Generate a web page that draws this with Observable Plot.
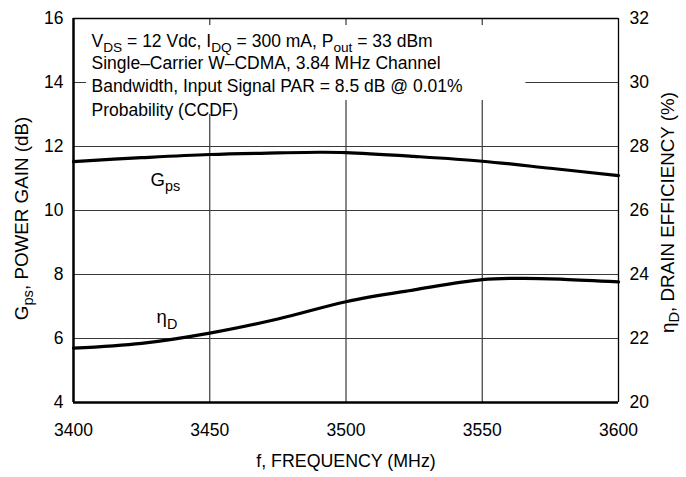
<!DOCTYPE html>
<html><head><meta charset="utf-8">
<script src="https://cdn.jsdelivr.net/npm/d3@7"></script>
<script src="https://cdn.jsdelivr.net/npm/@observablehq/plot@0.6"></script>
<style>
body{margin:0;background:#fff;}
#chart svg{font-family:"Liberation Sans",Arial,sans-serif;}
</style></head><body><div id="chart"></div>
<script>
// ---- data ----
const freq = [3400, 3425, 3450, 3475, 3490, 3500, 3525, 3550, 3575, 3600];
const gain = [11.53, 11.65, 11.75, 11.80, 11.82, 11.81, 11.69, 11.54, 11.32, 11.09];
const effFreq = [3400, 3425, 3450, 3475, 3500, 3525, 3550, 3565, 3580, 3600];
const eff = [21.70, 21.85, 22.17, 22.61, 23.15, 23.52, 23.84, 23.88, 23.85, 23.77];
const xTicks = [3400, 3450, 3500, 3550, 3600];
const leftTicks = [4, 6, 8, 10, 12, 14, 16];
const rightTicks = [20, 22, 24, 26, 28, 30, 32];
const annotation = [
  "V_{DS} = 12 Vdc, I_{DQ} = 300 mA, P_{out} = 33 dBm",
  "Single\u2013Carrier W\u2013CDMA, 3.84 MHz Channel",
  "Bandwidth, Input Signal PAR = 8.5 dB @ 0.01%",
  "Probability (CCDF)"
];
const xLabel = "f, FREQUENCY (MHz)";
const yLabelLeft = "G_{ps}, POWER GAIN (dB)";
const yLabelRight = "\u03B7_{D}, DRAIN EFFICIENCY (%)";
const gainLabel = "G_{ps}";
const effLabel = "\u03B7_{D}";

// right axis maps onto left scale: 20 -> 4, 32 -> 16
const offset = rightTicks[0] - leftTicks[0];
const gainData = freq.map((f, i) => ({f, v: gain[i]}));
const effData = effFreq.map((f, i) => ({f, v: eff[i] - offset}));
const annotData = annotation.map((t, i) => ({t, i}));
const annotY = [15.12, 14.42, 13.69, 12.95];

const grid = {stroke: "#3a3a3a", strokeOpacity: 1, strokeWidth: 1.2};
const plot = Plot.plot({
  width: 686, height: 477,
  marginLeft: 73, marginRight: 68, marginTop: 18, marginBottom: 75,
  x: {domain: [3400, 3600]},
  y: {domain: [4, 16]},
  style: {fontSize: "17.5px", color: "#000", background: "#fff", overflow: "visible"},
  marks: [
    Plot.gridX(xTicks.slice(1, -1), grid),
    Plot.gridY(leftTicks.slice(1, -1), grid),
    Plot.rect([0], {x1: 3404.8, x2: 3566, y1: 13.44, y2: 15.78, fill: "#fff"}),
    Plot.rect([0], {x1: 3404.8, x2: 3462, y1: 13.0, y2: 13.5, fill: "#fff"}),
    Plot.ruleX([3400], {strokeWidth: 2.5}),
    Plot.ruleY([4], {strokeWidth: 2.5}),
    Plot.ruleY([16], {strokeWidth: 1.3}),
    Plot.ruleX([3600], {strokeWidth: 1.3}),
    Plot.line(gainData, {x: "f", y: "v", curve: "catmull-rom", strokeWidth: 3.2}),
    Plot.line(effData, {x: "f", y: "v", curve: "catmull-rom", strokeWidth: 3.2}),
    Plot.axisX({ticks: xTicks, tickSize: 0, tickPadding: 21, label: null, tickFormat: d => String(d)}),
    Plot.axisY({ticks: leftTicks, tickSize: 0, tickPadding: 10, label: null}),
    Plot.axisY({anchor: "right", ticks: leftTicks, tickSize: 0, tickPadding: 11, label: null, tickFormat: d => String(d + offset)}),
    Plot.text(annotData, {x: 3406.6, y: d => annotY[d.i], text: "t", textAnchor: "start", lineAnchor: "bottom", fontSize: 17.5}),
    Plot.text([gainLabel], {x: 3428.3, y: 10.78, text: d => d, textAnchor: "start", lineAnchor: "bottom", fontSize: 18.5}),
    Plot.text([effLabel], {x: 3430.5, y: 6.47, text: d => d, textAnchor: "start", lineAnchor: "bottom", fontSize: 18.5}),
    Plot.text([xLabel], {frameAnchor: "bottom", dy: 64, text: d => d, fontSize: 17.8}),
    Plot.text([yLabelLeft], {frameAnchor: "left", rotate: -90, textAnchor: "middle", dx: -52, dy: 8, text: d => d, fontSize: 18.8}),
    Plot.text([yLabelRight], {frameAnchor: "right", rotate: -90, textAnchor: "middle", dx: 49, dy: 2, text: d => d, fontSize: 18.8})
  ]
});
document.getElementById("chart").appendChild(plot);

const NS = "http://www.w3.org/2000/svg";
d3.select(plot).selectAll("text").each(function() {
  const el = this;
  const s = el.textContent;
  if (!s.includes("_{")) return;
  el.textContent = "";
  const fs = parseFloat(getComputedStyle(el).fontSize) || 17;
  const shift = fs * 0.28;
  let shifted = false;
  for (const p of s.split(/(_\{[^}]*\})/)) {
    if (!p) continue;
    const ts = document.createElementNS(NS, "tspan");
    if (p.startsWith("_{")) {
      ts.textContent = p.slice(2, -1);
      ts.setAttribute("font-size", (fs * 0.78).toFixed(1));
      ts.setAttribute("dy", shift.toFixed(1));
      shifted = true;
    } else {
      ts.textContent = p;
      if (shifted) { ts.setAttribute("dy", (-shift).toFixed(1)); shifted = false; }
    }
    el.appendChild(ts);
  }
});
</script>
</body></html>
